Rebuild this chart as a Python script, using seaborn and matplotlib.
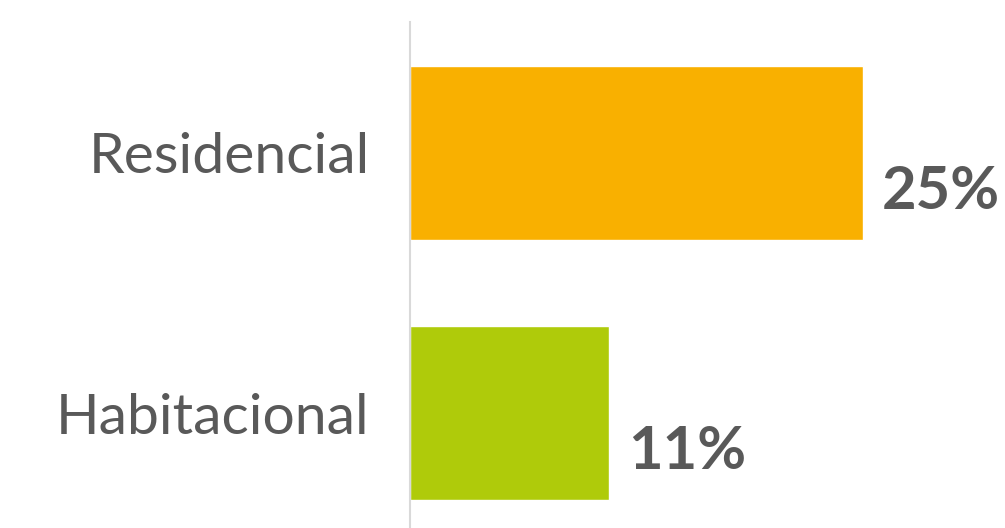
import matplotlib
matplotlib.use("Agg")
import matplotlib.pyplot as plt
import seaborn as sns
import pandas as pd

categories = ["Residencial", "Habitacional"]
values = [25, 11]
labels = ["25%", "11%"]
colors = ["#F9B000", "#AFCB0A"]

sns.set_theme(style="white")
plt.rcParams['font.family'] = ['Lato', 'DejaVu Sans']

df = pd.DataFrame({"cat": categories, "val": values})

fig = plt.figure(figsize=(10.05, 5.28), dpi=100)
ax = fig.add_axes([410/1005, 0, 1 - 410/1005, 1 - 22/528])

sns.barplot(data=df, x="val", y="cat", hue="cat", palette=colors, orient="h",
            width=0.668, ax=ax, legend=False, saturation=1)

ax.set_xlim(0, 595/18.1)
ax.set_ylim(1.44, -0.503)

for i, (v, lab) in enumerate(zip(values, labels)):
    ax.annotate(lab, xy=(v, i), xytext=(14, -28), textcoords="offset points",
                ha="left", va="center", fontsize=43, fontweight="bold", color="#595959")

ax.set_xlabel("")
ax.set_ylabel("")
ax.set_xticks([])
ax.tick_params(axis="y", length=0, pad=29, labelsize=41, labelcolor="#595959")
for s in ["top", "right", "bottom"]:
    ax.spines[s].set_visible(False)
ax.spines["left"].set_color("#D9D9D9")
ax.spines["left"].set_linewidth(1.5)

fig.savefig("out.png", dpi=100)
